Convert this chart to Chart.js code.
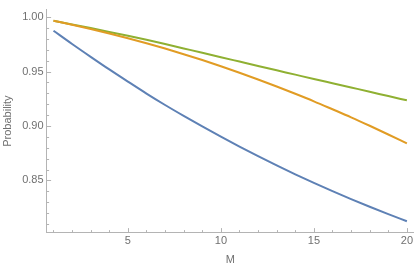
<!DOCTYPE html>
<html>
<head>
<meta charset="utf-8">
<script src="https://cdn.jsdelivr.net/npm/chart.js@4/dist/chart.umd.min.js"></script>
<style>
  html, body { margin: 0; padding: 0; background: #fff; }
  #wrap { width: 415px; height: 269px; }
</style>
</head>
<body>
<div id="wrap"><canvas id="myChart" width="415" height="269"></canvas></div>
<script>
// values
const mValues = [1, 2, 3, 4, 5, 6, 7, 8, 9, 10, 11, 12, 13, 14, 15, 16, 17, 18, 19, 20];
const blueProb = [0.9876, 0.9754, 0.9636, 0.9520, 0.9408, 0.9298, 0.9193, 0.9093, 0.8996, 0.8902,
                  0.8811, 0.8723, 0.8638, 0.8556, 0.8477, 0.8401, 0.8328, 0.8258, 0.8190, 0.8124];
const orangeProb = [0.9967, 0.9931, 0.9892, 0.9851, 0.9807, 0.9761, 0.9712, 0.9660, 0.9606, 0.9549,
                    0.9490, 0.9428, 0.9363, 0.9296, 0.9227, 0.9154, 0.9080, 0.9002, 0.8922, 0.8840];
const greenProb = [0.9967, 0.9934, 0.9900, 0.9865, 0.9829, 0.9792, 0.9753, 0.9713, 0.9673, 0.9632,
                   0.9592, 0.9552, 0.9512, 0.9472, 0.9432, 0.9393, 0.9354, 0.9315, 0.9275, 0.9236];
const xTickLabels = [5, 10, 15, 20];
const yTickLabels = [0.85, 0.90, 0.95, 1.00];

const axisColor = '#b4b4b4';
const textColor = '#707070';
const fontFamily = '"Liberation Sans", Arial, sans-serif';

function toPoints(ys) {
    return mValues.map((m, i) => ({ x: m, y: ys[i] }));
}

// small inward tick marks, drawn like Mathematica (minor + major)
const tickMarks = {
    id: 'tickMarks',
    afterDraw(chart) {
        const ctx = chart.ctx;
        const xs = chart.scales.x;
        const ys = chart.scales.y;
        const x0 = xs.left;
        const y0 = ys.bottom;
        ctx.save();
        ctx.strokeStyle = axisColor;
        ctx.lineWidth = 1;
        ctx.beginPath();
        for (let m = 1; m <= 20; m++) {
            const px = Math.round(xs.getPixelForValue(m)) + 0.5;
            const len = (m % 5 === 0) ? 4.5 : 2.5;
            ctx.moveTo(px, y0);
            ctx.lineTo(px, y0 - len);
        }
        for (let k = 81; k <= 100; k++) {
            const py = Math.round(ys.getPixelForValue(k / 100)) + 0.5;
            const len = (k % 5 === 0) ? 4.5 : 2.5;
            ctx.moveTo(x0, py);
            ctx.lineTo(x0 + len, py);
        }
        ctx.stroke();
        ctx.restore();
    }
};

const data = {
    datasets: [
        { label: 'blue', data: toPoints(blueProb), borderColor: '#5e81b5' },
        { label: 'orange', data: toPoints(orangeProb), borderColor: '#e19c24' },
        { label: 'green', data: toPoints(greenProb), borderColor: '#8fb032' }
    ]
};

const config = {
    type: 'line',
    data: data,
    options: {
        responsive: false,
        animation: false,
        layout: { padding: { top: 0, right: 0, bottom: 0, left: 0 } },
        elements: {
            line: { borderWidth: 2, tension: 0.4, cubicInterpolationMode: 'monotone', fill: false },
            point: { radius: 0 }
        },
        plugins: {
            legend: { display: false },
            tooltip: { enabled: false }
        },
        scales: {
            x: {
                type: 'linear',
                min: 0.63,
                max: 20.38,
                afterBuildTicks: (scale) => { scale.ticks = xTickLabels.map(v => ({ value: v })); },
                grid: { display: true, drawOnChartArea: false, drawTicks: false },
                border: { display: true, color: axisColor, width: 1 },
                ticks: {
                    color: textColor,
                    padding: 2,
                    maxRotation: 0,
                    font: { family: fontFamily, size: 11 },
                    callback: (v) => String(v)
                },
                title: {
                    display: true,
                    text: 'M',
                    color: textColor,
                    font: { family: fontFamily, size: 11 },
                    padding: { top: 4, bottom: 2 }
                }
            },
            y: {
                type: 'linear',
                min: 0.802,
                max: 1.007,
                afterBuildTicks: (scale) => { scale.ticks = yTickLabels.map(v => ({ value: v })); },
                grid: { display: true, drawOnChartArea: false, drawTicks: false },
                border: { display: true, color: axisColor, width: 1 },
                ticks: {
                    color: textColor,
                    padding: 3,
                    font: { family: fontFamily, size: 11 },
                    callback: (v) => v.toFixed(2)
                },
                title: {
                    display: true,
                    text: 'Probability',
                    color: textColor,
                    font: { family: fontFamily, size: 11 },
                    padding: { top: 1, bottom: 5 }
                }
            }
        }
    },
    plugins: [tickMarks]
};

const myChart = new Chart(document.getElementById('myChart'), config);
</script>
</body>
</html>
